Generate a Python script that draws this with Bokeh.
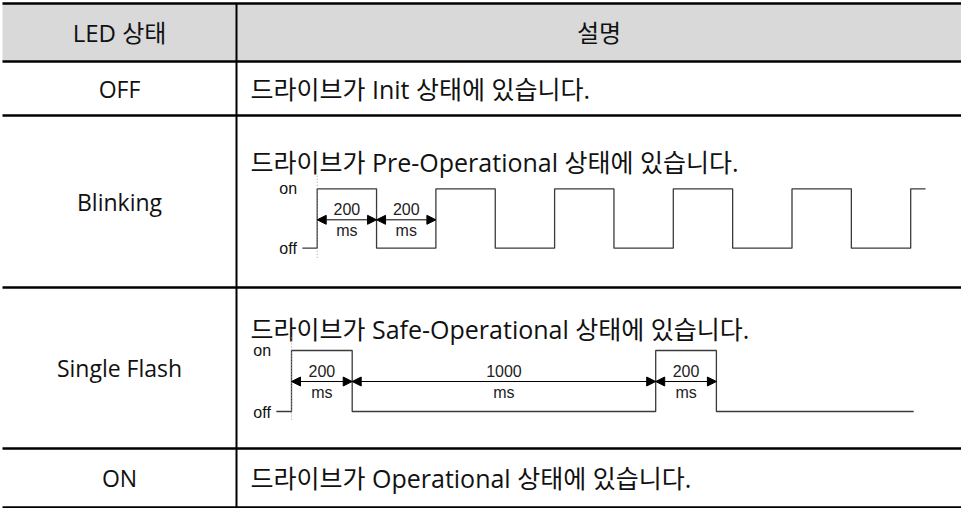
from bokeh.plotting import figure
from bokeh.models import Range1d, ColumnDataSource, Arrow, NormalHead
from bokeh.core.properties import value
from bokeh.embed import file_html
from bokeh.resources import INLINE

# ---------------- data ----------------
HEADERS = ["LED 상태", "설명"]
LED_STATES = ["OFF", "Blinking", "Single Flash", "ON"]
DESCRIPTIONS = [
    "드라이브가 Init 상태에 있습니다.",
    "드라이브가 Pre-Operational 상태에 있습니다.",
    "드라이브가 Safe-Operational 상태에 있습니다.",
    "드라이브가 Operational 상태에 있습니다.",
]
LEVEL_LABELS = ["on", "off"]
TIME_UNIT = "ms"

# Blinking: 200 ms on / 200 ms off
BLINK_ON_MS = 200
BLINK_OFF_MS = 200
BLINK_CYCLES = 5          # full on/off cycles drawn
BLINK_LEAD_MS = 50        # off level drawn before first rise
BLINK_TAIL_MS = 50        # partial last on level
BLINK_DIMENSIONS = [200, 200]

# Single Flash: 200 ms on / 1000 ms off
FLASH_ON_MS = 200
FLASH_OFF_MS = 1000
FLASH_LEAD_MS = 50
FLASH_TAIL_MS = 650
FLASH_DIMENSIONS = [200, 1000, 200]

# ---------------- layout ----------------
W, H = 961, 508
ROW_LINES = [3, 61, 115, 287, 448, 507]
COL_SPLIT = 236
DESC_X = 250
FONT_MAIN = "Open Sans, Noto Sans CJK KR"
FONT_DIAG = "Liberation Sans"
LABEL_SIZE = "23px"
DESC_SIZE = "25px"

p = figure(width=W, height=H, x_range=Range1d(0, W), y_range=Range1d(H, 0),
           x_axis_type=None, y_axis_type=None, toolbar_location=None,
           output_backend="svg", min_border=0, outline_line_color=None,
           background_fill_color="white", border_fill_color="white")
p.grid.visible = False

# header fill
p.quad(left=[2], right=[W], top=[ROW_LINES[0]], bottom=[ROW_LINES[1]],
       fill_color="#d9d9d9", line_color=None)

# table lines
p.segment(x0=[2] * len(ROW_LINES), x1=[W] * len(ROW_LINES), y0=ROW_LINES, y1=ROW_LINES,
          line_color="black", line_width=2.5)
p.segment(x0=[COL_SPLIT], x1=[COL_SPLIT], y0=[ROW_LINES[0]], y1=[ROW_LINES[-1]],
          line_color="black", line_width=2)

# header texts
row_c = [(ROW_LINES[i] + ROW_LINES[i + 1]) / 2 for i in range(len(ROW_LINES) - 1)]
col1_c = (2 + COL_SPLIT) / 2
col2_c = (COL_SPLIT + W) / 2
hdr = ColumnDataSource(dict(x=[col1_c, col2_c], y=[row_c[0], row_c[0]], t=HEADERS))
p.text(x="x", y="y", text="t", source=hdr, text_align="center", text_baseline="middle",
       text_font=value(FONT_MAIN), text_font_size="24px", text_color="#111111")

# state labels (left column)
state_src = ColumnDataSource(dict(x=[col1_c] * 4, y=row_c[1:], t=LED_STATES))
p.text(x="x", y="y", text="t", source=state_src, text_align="center", text_baseline="middle",
       text_font=value(FONT_MAIN), text_font_size=LABEL_SIZE, text_color="#111111")

# descriptions
desc_y = [row_c[1], 161, 328, row_c[4]]
desc_src = ColumnDataSource(dict(x=[DESC_X] * 4, y=desc_y, t=DESCRIPTIONS))
p.text(x="x", y="y", text="t", source=desc_src, text_align="left", text_baseline="middle",
       text_font=value(FONT_MAIN), text_font_size=DESC_SIZE, text_color="#111111")


def waveform(x_rise, k, lead_ms, segments, y_on, y_off):
    xs = [x_rise - lead_ms * k, x_rise]
    yv = [y_off, y_off]
    x = x_rise
    for dur, state in segments:
        y = y_on if state else y_off
        xs += [x, x + dur * k]
        yv += [y, y]
        x += dur * k
    return xs, yv


def diagram(x_rise, k, lead_ms, segments, dims, y_on, y_off):
    xs, yv = waveform(x_rise, k, lead_ms, segments, y_on, y_off)
    p.line(xs, yv, line_color="#3a3a3a", line_width=1.3)
    # dotted reference line
    p.segment(x0=[x_rise], x1=[x_rise], y0=[y_on - 13], y1=[y_off + 10],
              line_color="#999999", line_width=1, line_dash="1 2")
    # level labels
    lx = x_rise - lead_ms * k - 23
    lv = ColumnDataSource(dict(x=[lx, lx], y=[y_on, y_off + 0.5], t=LEVEL_LABELS))
    p.text(x="x", y="y", text="t", source=lv, text_align="left", text_baseline="middle",
           text_font=value(FONT_DIAG), text_font_size="16px", text_color="#111111")
    # dimensions
    ya = y_on + 31
    starts, ends = [], []
    x = x_rise
    for d in dims:
        starts.append(x)
        ends.append(x + d * k)
        x += d * k
    src = ColumnDataSource(dict(x0=starts, x1=ends, y=[ya] * len(dims)))
    p.add_layout(Arrow(x_start="x0", y_start="y", x_end="x1", y_end="y", source=src,
                       line_color="black", line_width=1,
                       start=NormalHead(size=9, fill_color="black", line_color="black", line_width=1),
                       end=NormalHead(size=9, fill_color="black", line_color="black", line_width=1)))
    mids = [(a + b) / 2 for a, b in zip(starts, ends)]
    lab = ColumnDataSource(dict(x=mids + mids, y=[ya - 11] * len(dims) + [ya + 11] * len(dims),
                                t=[str(d) for d in dims] + [TIME_UNIT] * len(dims)))
    p.text(x="x", y="y", text="t", source=lab, text_align="center", text_baseline="middle",
           text_font=value(FONT_DIAG), text_font_size="16px", text_color="#222222")


blink_segments = [(BLINK_ON_MS, 1), (BLINK_OFF_MS, 0)] * BLINK_CYCLES + [(BLINK_TAIL_MS, 1)]
diagram(316.7, 59.35 / 200, BLINK_LEAD_MS, blink_segments, BLINK_DIMENSIONS, 188.3, 247.7)

flash_segments = [(FLASH_ON_MS, 1), (FLASH_OFF_MS, 0), (FLASH_ON_MS, 1), (FLASH_TAIL_MS, 0)]
diagram(291.0, 60.7 / 200, FLASH_LEAD_MS, flash_segments, FLASH_DIMENSIONS, 350.0, 411.0)

open("out.html", "w").write(file_html(p, INLINE))
